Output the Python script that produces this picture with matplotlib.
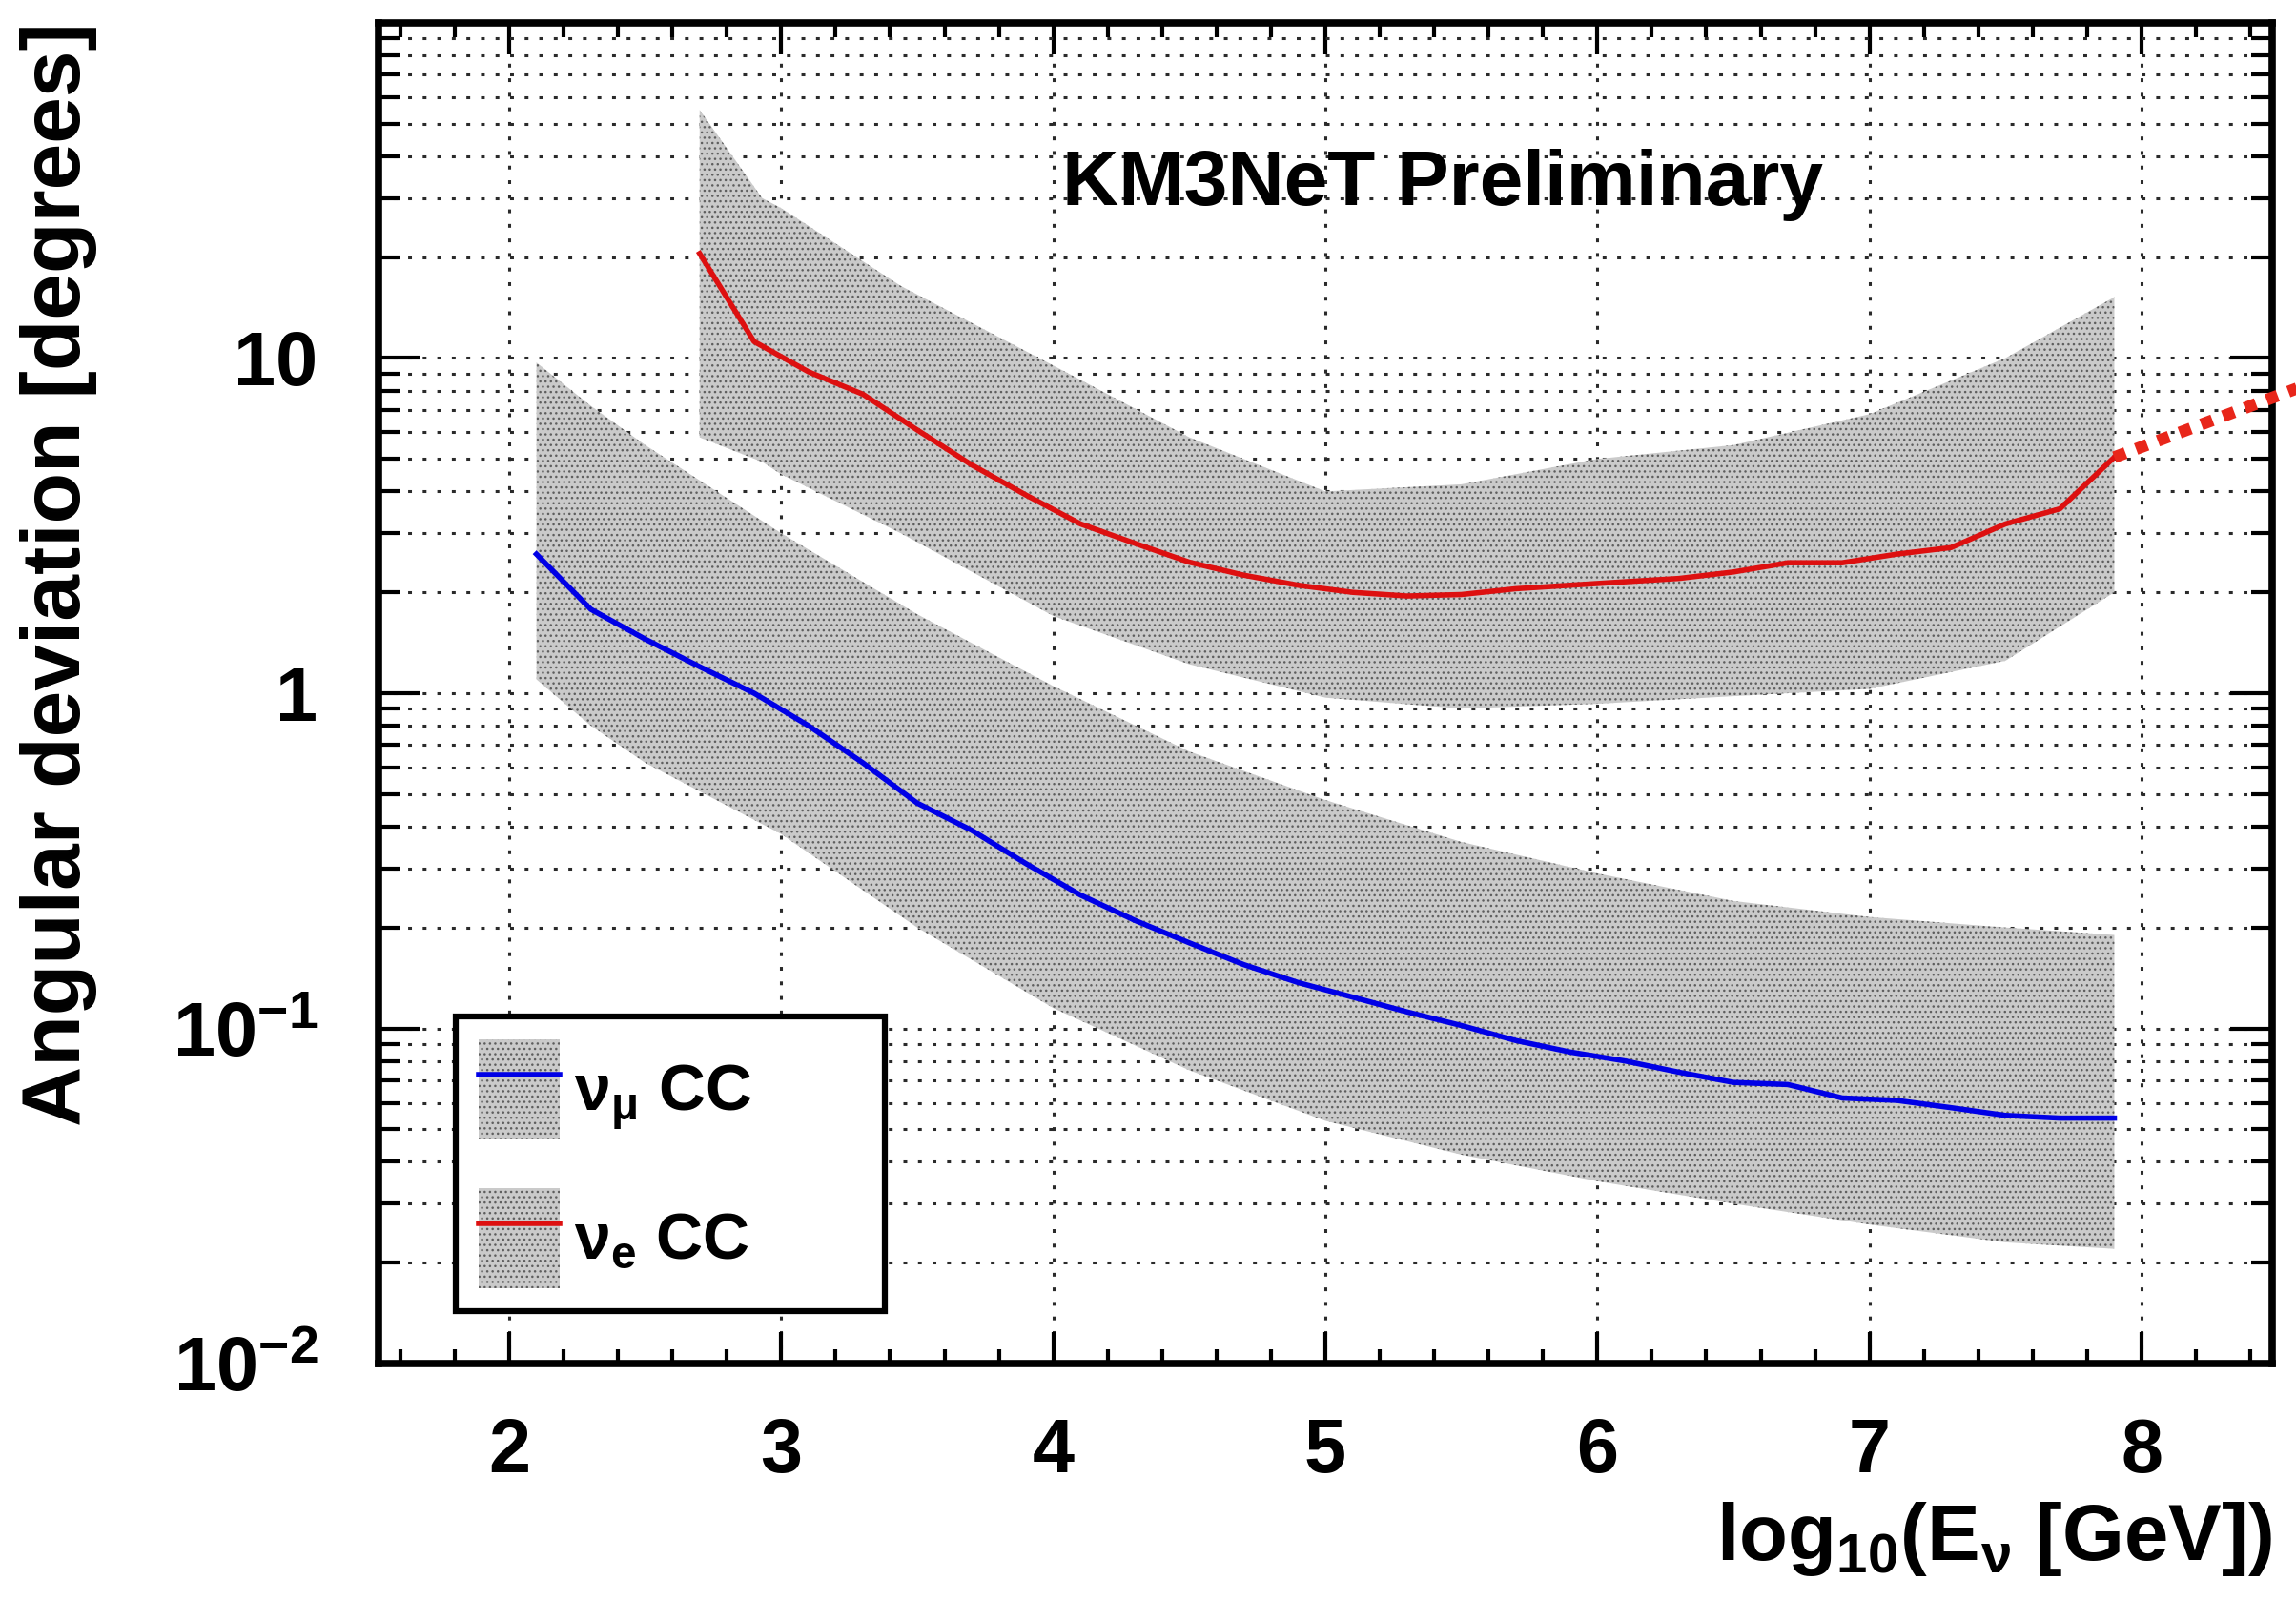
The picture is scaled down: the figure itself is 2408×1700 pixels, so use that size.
import numpy as np
import matplotlib
matplotlib.use("Agg")
import matplotlib.pyplot as plt
from matplotlib.patches import Patch
from matplotlib.lines import Line2D
from matplotlib.ticker import FixedLocator, NullFormatter, MultipleLocator

# fonts: Helvetica-bold look
plt.rcParams["font.family"] = ["Liberation Sans", "DejaVu Sans"]
plt.rcParams["font.weight"] = "bold"
plt.rcParams["mathtext.fontset"] = "custom"
plt.rcParams["mathtext.rm"] = "Liberation Sans:bold"
plt.rcParams["mathtext.it"] = "Liberation Sans:bold"
plt.rcParams["mathtext.bf"] = "Liberation Sans:bold"
plt.rcParams["mathtext.sf"] = "Liberation Sans:bold"
plt.rcParams["mathtext.default"] = "regular"
plt.rcParams["hatch.linewidth"] = 1.0

# --- numu CC (blue) ---
numu_x = [2.1, 2.3, 2.5, 2.7, 2.9, 3.1, 3.3, 3.5, 3.7, 3.9, 4.1, 4.3, 4.5, 4.7, 4.9,
          5.1, 5.3, 5.5, 5.7, 5.9, 6.1, 6.3, 6.5, 6.7, 6.9, 7.1, 7.3, 7.5, 7.7, 7.9]
numu_med = [2.6, 1.78, 1.45, 1.2, 1.0, 0.8, 0.62, 0.47, 0.39, 0.31, 0.25, 0.21, 0.18, 0.155, 0.137,
            0.124, 0.112, 0.102, 0.092, 0.085, 0.08, 0.074, 0.069, 0.068, 0.062, 0.061, 0.058, 0.055, 0.054, 0.054]
numu_band_x = [2.1, 2.3, 2.5, 3.0, 3.5, 4.0, 4.5, 5.0, 5.5, 6.0, 6.5, 7.0, 7.5, 7.9]
numu_up = [9.7, 7.2, 5.5, 3.0, 1.72, 1.05, 0.67, 0.48, 0.36, 0.29, 0.24, 0.215, 0.2, 0.19]
numu_lo = [1.1, 0.8, 0.62, 0.38, 0.2, 0.115, 0.075, 0.053, 0.042, 0.035, 0.03, 0.026, 0.023, 0.022]

# --- nue CC (red) ---
nue_x = [2.7, 2.9, 3.1, 3.3, 3.5, 3.7, 3.9, 4.1, 4.3, 4.5, 4.7, 4.9, 5.1, 5.3, 5.5,
         5.7, 5.9, 6.1, 6.3, 6.5, 6.7, 6.9, 7.1, 7.3, 7.5, 7.7, 7.9]
nue_med = [20.5, 11.2, 9.1, 7.8, 6.1, 4.8, 3.9, 3.2, 2.8, 2.46, 2.25, 2.1, 2.0, 1.95, 1.97,
           2.05, 2.1, 2.15, 2.2, 2.3, 2.45, 2.45, 2.6, 2.72, 3.2, 3.55, 5.06]
nue_band_x = [2.7, 2.93, 3.0, 3.44, 4.0, 4.5, 5.0, 5.5, 6.0, 6.5, 7.0, 7.5, 7.9]
nue_up = [55, 30, 28, 16.4, 9.5, 5.8, 4.0, 4.2, 5.0, 5.5, 6.8, 10, 15.2]
nue_lo = [5.8, 4.9, 4.5, 3.0, 1.7, 1.22, 0.97, 0.9, 0.93, 0.98, 1.03, 1.25, 2.0]

# extrapolation beyond the last bin
ext_x = [7.9, 8.62]
ext_y = [5.06, 8.4]

ytick_vals = [0.01, 0.1, 1, 10]
ytick_labels = [r"$10^{-2}$", r"$10^{-1}$", "1", "10"]
xtick_vals = [2, 3, 4, 5, 6, 7, 8]

fig = plt.figure(figsize=(24.08, 17.0), dpi=100)
ax = fig.add_axes([0.1649, 0.1588, 0.8247, 0.8271])

band_face = "#cacaca"
band_hatch = "#5e5e5e"

ax.fill_between(numu_band_x, numu_lo, numu_up, facecolor=band_face, edgecolor=band_hatch,
                hatch="...", linewidth=0, zorder=1)
ax.fill_between(nue_band_x, nue_lo, nue_up, facecolor=band_face, edgecolor=band_hatch,
                hatch="...", linewidth=0, zorder=1)

ax.plot(numu_x, numu_med, color="#0000e6", lw=4, zorder=4)
ax.plot(nue_x, nue_med, color="#dd1010", lw=4, zorder=4)
ax.plot(ext_x, ext_y, color="#e8261a", lw=9, linestyle=(0, (1, 0.95)), solid_capstyle="butt",
        dash_capstyle="butt", clip_on=False, zorder=5)

ax.set_yscale("log")
ax.set_xlim(1.52, 8.48)
ax.set_ylim(0.01, 100)

ax.xaxis.set_major_locator(FixedLocator(xtick_vals))
ax.xaxis.set_minor_locator(MultipleLocator(0.2))
ax.yaxis.set_major_locator(FixedLocator(ytick_vals))
ax.set_yticklabels(ytick_labels)
ax.yaxis.set_minor_locator(matplotlib.ticker.LogLocator(base=10, subs=np.arange(2, 10)))
ax.yaxis.set_minor_formatter(NullFormatter())

ax.tick_params(axis="both", which="both", direction="in", top=True, right=True, color="black")
ax.tick_params(axis="y", which="major", length=32, width=3, labelsize=57, pad=46)
ax.tick_params(axis="y", which="minor", length=16, width=3)
ax.tick_params(axis="x", which="major", length=24, width=3, labelsize=57, pad=40)
ax.tick_params(axis="x", which="minor", length=11, width=3)

for s in ax.spines.values():
    s.set_linewidth(5.5)

grid_style = dict(color="#2a2a2a", linewidth=2.2, linestyle=(0, (1.3, 3.7)))
ax.grid(True, axis="x", which="major", **grid_style)
ax.grid(True, axis="y", which="both", **grid_style)
ax.set_axisbelow(True)

ax.text(0.562, 0.864, "KM3NeT Preliminary", transform=ax.transAxes, ha="center", va="baseline",
        fontsize=59, fontweight="bold", zorder=6)

fig.text(0.0254, 0.9865, "Angular deviation [degrees]", rotation=90, ha="center", va="top",
         fontsize=63, fontweight="bold")
fig.text(0.9896, 0.0376, r"log$_{10}$(E$_{\nu}$ [GeV])", ha="right", va="baseline",
         fontsize=60, fontweight="bold")

# legend: hatched band with the median line on top
h_numu = (Patch(facecolor=band_face, edgecolor=band_hatch, hatch="...", linewidth=0),
          Line2D([], [], color="#0000e6", lw=4))
h_nue = (Patch(facecolor=band_face, edgecolor=band_hatch, hatch="...", linewidth=0),
         Line2D([], [], color="#dd1010", lw=4))
leg = ax.legend([h_numu, h_nue], [r"$\nu_{\mu}$ CC", r"$\nu_{e}$ CC"],
                loc="lower left", bbox_to_anchor=(0.0408, 0.0391, 0.2266, 0.2155),
                mode="expand", fontsize=49, handlelength=1.25, handleheight=2.0,
                handletextpad=0.22, labelspacing=0.75, borderpad=0.35, borderaxespad=0,
                fancybox=False, framealpha=1, edgecolor="black")
leg.get_frame().set_linewidth(4.5)
leg.set_zorder(7)

fig.savefig("out.png", dpi=100)
